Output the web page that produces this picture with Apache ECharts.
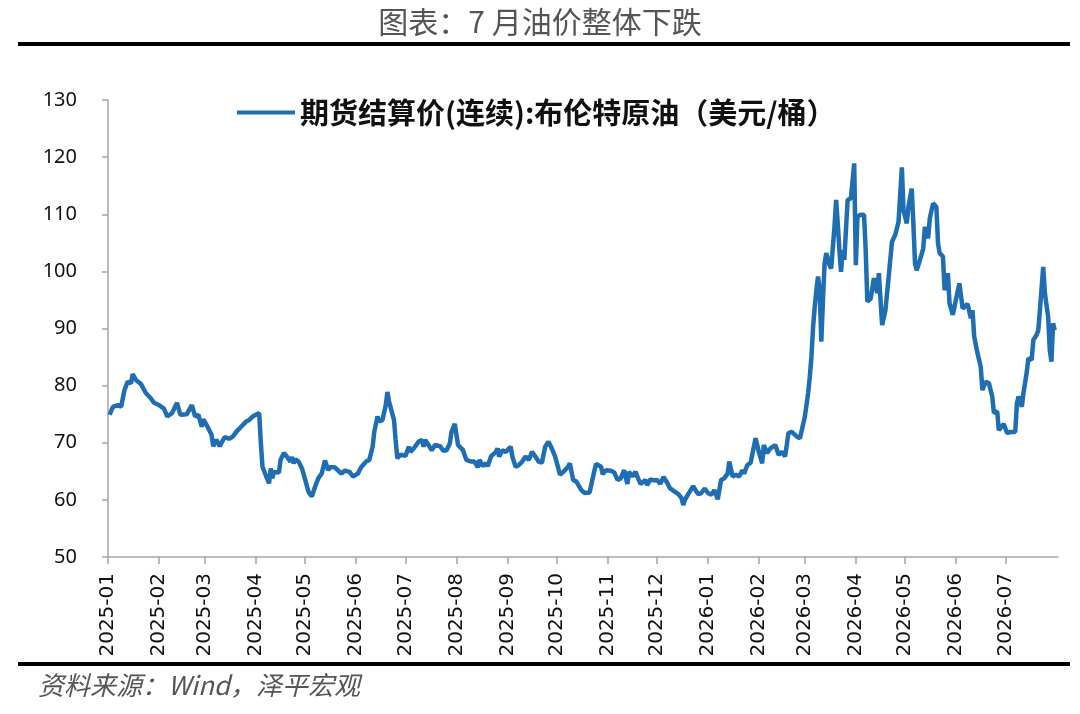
<!DOCTYPE html>
<html>
<head>
<meta charset="utf-8">
<script src="https://cdn.jsdelivr.net/npm/echarts@6/dist/echarts.min.js"></script>
<style>
  html, body { margin: 0; padding: 0; background: #fff; }
  #chart { width: 1080px; height: 714px; }
</style>
</head>
<body>
<div id="chart"></div>
<script>
// 布伦特原油 期货结算价(连续)，美元/桶
const dates2025 = [
  "2025-01-02","2025-01-04","2025-01-07","2025-01-09","2025-01-11","2025-01-13","2025-01-15","2025-01-16","2025-01-18","2025-01-21",
  "2025-01-24","2025-01-27","2025-01-29","2025-02-01","2025-02-04","2025-02-06","2025-02-09","2025-02-12","2025-02-14","2025-02-18",
  "2025-02-21","2025-02-23","2025-02-25","2025-02-27","2025-02-28","2025-03-02","2025-03-05","2025-03-06","2025-03-08","2025-03-10",
  "2025-03-13","2025-03-16","2025-03-18","2025-03-20","2025-03-23","2025-03-26","2025-03-28","2025-03-30","2025-04-03","2025-04-04",
  "2025-04-05","2025-04-07","2025-04-09","2025-04-10","2025-04-11","2025-04-12","2025-04-15","2025-04-16","2025-04-18","2025-04-20",
  "2025-04-22","2025-04-23","2025-04-24","2025-04-25","2025-04-27","2025-04-29","2025-05-01","2025-05-03","2025-05-05","2025-05-07",
  "2025-05-08","2025-05-09","2025-05-11","2025-05-13","2025-05-15","2025-05-16","2025-05-19","2025-05-23","2025-05-25","2025-05-28",
  "2025-05-30","2025-06-02","2025-06-04","2025-06-07","2025-06-09","2025-06-11","2025-06-12","2025-06-14","2025-06-15","2025-06-17",
  "2025-06-19","2025-06-20","2025-06-21","2025-06-24","2025-06-25","2025-06-26","2025-06-28","2025-07-01","2025-07-03","2025-07-04",
  "2025-07-06","2025-07-09","2025-07-11","2025-07-12","2025-07-13","2025-07-15","2025-07-17","2025-07-19","2025-07-22","2025-07-24",
  "2025-07-26","2025-07-28","2025-07-29","2025-07-31","2025-08-01","2025-08-02","2025-08-05","2025-08-07","2025-08-10","2025-08-12",
  "2025-08-14","2025-08-15","2025-08-17","2025-08-19","2025-08-20","2025-08-22","2025-08-25","2025-08-26","2025-08-27","2025-08-29",
  "2025-08-31","2025-09-03","2025-09-04","2025-09-06","2025-09-08","2025-09-10","2025-09-12","2025-09-14","2025-09-16","2025-09-18",
  "2025-09-20","2025-09-22","2025-09-24","2025-09-26","2025-09-28","2025-09-30","2025-10-02","2025-10-03","2025-10-05","2025-10-08",
  "2025-10-09","2025-10-11","2025-10-13","2025-10-14","2025-10-16","2025-10-18","2025-10-21","2025-10-22","2025-10-24","2025-10-25",
  "2025-10-28","2025-10-29","2025-10-31","2025-11-03","2025-11-05","2025-11-07","2025-11-09","2025-11-11","2025-11-13","2025-11-14",
  "2025-11-16","2025-11-18","2025-11-19","2025-11-21","2025-11-24","2025-11-25","2025-11-27","2025-11-29","2025-12-01","2025-12-03",
  "2025-12-05","2025-12-07","2025-12-09","2025-12-12","2025-12-14","2025-12-16","2025-12-17","2025-12-18","2025-12-20","2025-12-23",
  "2025-12-24","2025-12-26","2025-12-28","2025-12-30"
];
const prices2025 = [
  74.9,76.3,76.6,76.3,79.2,80.7,80.4,82.0,81.0,80.3,
  78.7,77.8,77.0,76.6,76.0,74.6,75.2,77.0,74.9,75.0,
  76.6,74.6,74.9,72.8,74.1,73.1,71.4,69.4,70.5,69.4,
  71.0,70.7,71.1,71.9,72.8,73.7,74.0,74.6,75.2,69.9,
  65.8,64.3,62.9,65.5,63.8,64.9,64.8,67.0,68.2,67.5,
  66.7,67.5,66.4,67.1,66.7,65.5,63.5,61.4,60.6,62.3,
  62.0,63.8,64.6,66.9,65.2,65.7,65.7,64.6,65.1,64.9,
  64.1,64.6,65.7,66.7,67.0,69.3,71.9,74.6,73.7,74.0,
  76.6,78.9,77.2,74.0,70.5,67.3,67.9,67.7,69.3,68.4,
  69.0,70.2,70.5,69.3,70.5,69.6,68.7,69.6,69.4,68.6,
  68.7,69.9,71.9,73.3,71.4,69.6,68.7,67.0,66.7,66.7,
  65.7,67.0,65.9,66.4,65.9,67.6,68.4,69.0,67.6,68.7,
  68.4,69.3,67.6,65.8,66.1,66.7,67.6,67.0,68.4,67.6,
  66.7,66.5,69.3,70.2,69.0,67.6,65.5,64.4,64.9,65.8,
  66.4,63.5,63.2,63.5,61.7,61.2,61.3,61.0,65.2,66.3,
  65.8,64.5,65.2,65.1,64.8,63.5,63.8,65.2,62.8,64.9,
  64.1,64.9,64.1,62.8,63.5,62.6,63.6,63.4,63.5,62.8,
  64.0,63.1,62.0,61.4,61.0,60.3,59.1,60.0,61.0,62.4,
  62.2,61.0,61.2,62.0
];
const dates2026 = [
  "2026-01-01","2026-01-03","2026-01-05","2026-01-06","2026-01-07","2026-01-09","2026-01-11","2026-01-13","2026-01-14","2026-01-16",
  "2026-01-18","2026-01-20","2026-01-22","2026-01-23","2026-01-25","2026-01-27","2026-01-30","2026-02-01","2026-02-03","2026-02-04",
  "2026-02-06","2026-02-08","2026-02-11","2026-02-13","2026-02-15","2026-02-17","2026-02-19","2026-02-21","2026-02-24","2026-02-26",
  "2026-03-01","2026-03-03","2026-03-04","2026-03-05","2026-03-06","2026-03-07","2026-03-08","2026-03-09","2026-03-10","2026-03-11",
  "2026-03-12","2026-03-13","2026-03-14","2026-03-16","2026-03-17","2026-03-19","2026-03-20","2026-03-21","2026-03-22","2026-03-23",
  "2026-03-24","2026-03-25","2026-03-27","2026-03-29","2026-03-31","2026-04-01","2026-04-02","2026-04-04","2026-04-06","2026-04-07",
  "2026-04-08","2026-04-10","2026-04-12","2026-04-14","2026-04-15","2026-04-17","2026-04-19","2026-04-21","2026-04-23","2026-04-25",
  "2026-04-27","2026-04-29","2026-04-30","2026-05-02","2026-05-03","2026-05-05","2026-05-06","2026-05-07","2026-05-08","2026-05-10",
  "2026-05-12","2026-05-13","2026-05-15","2026-05-16","2026-05-18","2026-05-20","2026-05-21","2026-05-22","2026-05-24","2026-05-25",
  "2026-05-27","2026-05-28","2026-05-30","2026-05-31","2026-06-03","2026-06-05","2026-06-06","2026-06-08","2026-06-10","2026-06-11",
  "2026-06-12","2026-06-14","2026-06-16","2026-06-17","2026-06-19","2026-06-21","2026-06-23","2026-06-24","2026-06-26","2026-06-27",
  "2026-06-28","2026-06-30","2026-07-02","2026-07-04","2026-07-07","2026-07-08","2026-07-09","2026-07-11","2026-07-12","2026-07-14",
  "2026-07-15","2026-07-17","2026-07-18","2026-07-20","2026-07-21","2026-07-22","2026-07-24","2026-07-25","2026-07-27","2026-07-28",
  "2026-07-29","2026-07-30","2026-07-31"
];
const prices2026 = [
  61.2,60.9,61.7,61.4,60.1,63.5,63.8,64.6,66.7,64.1,
  64.4,64.1,65.2,64.6,66.1,66.5,70.8,68.4,66.4,69.6,
  68.2,69.0,69.6,67.9,68.4,67.6,71.7,71.9,71.1,70.8,
  74.6,78.7,81.6,85.1,90.3,93.8,96.7,99.1,96.7,87.7,
  95.0,101.4,103.2,101.1,100.5,107.8,112.5,108.4,103.7,99.9,
  103.7,102.0,112.5,112.8,118.9,101.1,109.6,109.9,109.9,103.7,
  94.7,95.2,98.8,96.2,99.7,90.6,93.2,99.1,105.2,106.4,
  108.7,118.2,110.7,108.4,111.3,114.5,108.4,101.4,100.2,102.0,
  104.0,107.8,105.8,109.3,111.9,111.3,104.9,103.2,102.6,96.7,
  99.7,94.4,92.4,93.8,97.9,93.5,93.8,94.3,91.8,93.2,
  88.6,85.7,83.3,79.2,80.7,80.4,78.1,75.2,75.5,72.2,
  72.5,73.3,71.7,71.9,71.9,76.9,78.1,76.3,78.7,82.4,
  84.8,84.5,88.0,88.9,89.7,93.2,100.8,96.2,92.1,86.2,
  84.2,90.9,89.7
];
// 横轴刻度：每月第一天
const tickMonths = [
  "2025-01","2025-02","2025-03","2025-04","2025-05","2025-06","2025-07","2025-08","2025-09","2025-10",
  "2025-11","2025-12","2026-01","2026-02","2026-03","2026-04","2026-05","2026-06","2026-07"
];
const yTicks = [50, 130, 10]; // min, max, interval

function toTime(str) {
  const p = str.split("-");
  return new Date(+p[0], +p[1] - 1, p[2] ? +p[2] : 1).getTime();
}

const dates = dates2025.concat(dates2026);
const prices = prices2025.concat(prices2026);
const seriesData = dates.map((d, i) => [toTime(d), prices[i]]);
const tickValues = tickMonths.map(toTime);

const chart = echarts.init(document.getElementById("chart"), null, { renderer: "canvas" });

const option = {
  animation: false,
  backgroundColor: "#fff",
  title: {
    text: "图表：7 月油价整体下跌",
    left: "center",
    top: 2,
    textStyle: {
      fontFamily: "Noto Sans CJK SC",
      fontSize: 30,
      fontWeight: "normal",
      color: "#555"
    }
  },
  legend: {
    left: 232,
    top: 93,
    icon: "rect",
    itemWidth: 58,
    itemHeight: 4,
    textStyle: {
      fontFamily: "Noto Sans CJK SC",
      fontSize: 29,
      fontWeight: "bold",
      color: "#111"
    },
    data: ["期货结算价(连续):布伦特原油（美元/桶）"]
  },
  grid: {
    left: 108,
    right: 22,
    top: 100,
    bottom: 157
  },
  // 用数值轴承载时间戳，刻度固定在每月第一天
  xAxis: {
    type: "value",
    min: toTime("2025-01-01"),
    max: toTime("2026-08-02"),
    splitLine: { show: false },
    axisLine: { lineStyle: { color: "#a6a6a6", width: 1.5 } },
    axisTick: {
      show: true,
      length: 7,
      customValues: tickValues,
      lineStyle: { color: "#a6a6a6", width: 1.5 }
    },
    axisLabel: {
      rotate: 90,
      margin: 16,
      customValues: tickValues,
      fontFamily: "DejaVu Sans",
      fontSize: 20,
      color: "#111",
      formatter: function(v) {
        const d = new Date(v);
        return d.getFullYear() + "-" + String(d.getMonth() + 1).padStart(2, "0");
      }
    }
  },
  yAxis: {
    type: "value",
    min: yTicks[0],
    max: yTicks[1],
    interval: yTicks[2],
    splitLine: { show: false },
    axisLine: { show: true, lineStyle: { color: "#a6a6a6", width: 1.5 } },
    axisTick: { show: true, length: 6, lineStyle: { color: "#a6a6a6", width: 1.5 } },
    axisLabel: {
      margin: 31,
      fontFamily: "Noto Sans",
      fontSize: 20,
      color: "#111"
    }
  },
  graphic: [
    { type: "rect", shape: { x: 18, y: 42, width: 1052, height: 4 }, style: { fill: "#000" } },
    { type: "rect", shape: { x: 18, y: 662, width: 1052, height: 4 }, style: { fill: "#000" } },
    {
      type: "text",
      left: 38,
      top: 672,
      style: {
        text: "资料来源：Wind，泽平宏观",
        fontFamily: "Noto Sans CJK SC",
        fontStyle: "italic",
        fontSize: 26,
        fill: "#555"
      }
    }
  ],
  series: [
    {
      name: "期货结算价(连续):布伦特原油（美元/桶）",
      type: "line",
      showSymbol: false,
      smooth: false,
      lineStyle: { color: "#1f6db3", width: 4.5 },
      itemStyle: { color: "#1f6db3" },
      data: seriesData
    }
  ]
};
chart.setOption(option);
</script>
</body>
</html>
